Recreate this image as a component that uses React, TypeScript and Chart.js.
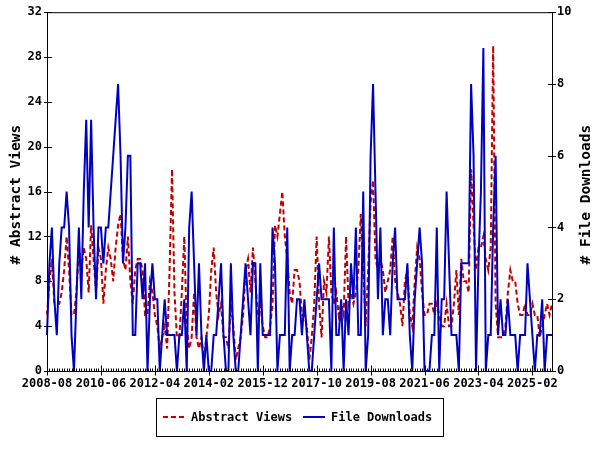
import { useEffect, useRef } from "react";
import { Chart, registerables } from "chart.js";

Chart.register(...registerables);

const START_YEAR = 2008;
const START_MONTH = 8;

const abstractViews = [
  5, 8, 10, 6, 6, 6, 7, 9, 12, 9, 5, 5, 7, 11, 9, 11, 10, 7, 13, 10,
  7, 11, 10, 6, 9, 11, 10, 8, 11, 13, 14, 10, 9, 12, 8, 6, 9, 10, 10, 9,
  5, 5, 8, 7, 5, 4, 2, 3, 4, 2, 9, 18, 7, 3, 3, 7, 12, 4, 2, 3,
  7, 3, 2, 3, 1, 3, 5, 9, 11, 7, 5, 6, 3, 3, 2, 6, 4, 1, 2, 3,
  5, 9, 10, 7, 11, 8, 5, 6, 4, 3, 3, 4, 6, 13, 12, 14, 16, 12, 10, 7,
  6, 9, 9, 8, 5, 5, 4, 1, 3, 6, 12, 6, 3, 8, 7, 12, 7, 6, 7, 5,
  6, 5, 12, 6, 7, 6, 7, 9, 14, 9, 4, 9, 15, 17, 10, 9, 10, 9, 7, 8,
  9, 12, 8, 7, 6, 4, 8, 9, 5, 4, 8, 11, 10, 7, 5, 5, 6, 6, 5, 6,
  5, 4, 4, 6, 4, 4, 6, 9, 5, 10, 8, 8, 7, 18, 13, 9, 11, 11, 12, 10,
  9, 11, 29, 6, 3, 3, 3, 4, 7, 9, 8, 8, 6, 5, 5, 6, 5, 5, 6, 5,
  5, 3, 4, 5, 6, 5, 6,
];

const fileDownloads = [
  1, 3, 4, 2, 1, 3, 4, 4, 5, 4, 1, 0, 2, 4, 2, 5, 7, 4, 7, 4,
  2, 4, 4, 3, 4, 4, 5, 6, 7, 8, 6, 3, 4, 6, 6, 1, 1, 3, 3, 2,
  3, 0, 2, 3, 2, 2, 0, 1, 2, 1, 1, 1, 1, 0, 1, 1, 2, 0, 4, 5,
  3, 1, 3, 1, 0, 1, 0, 0, 1, 1, 2, 3, 1, 0, 0, 3, 1, 0, 0, 1,
  2, 3, 2, 1, 3, 3, 0, 3, 1, 1, 1, 1, 4, 3, 0, 1, 1, 1, 4, 0,
  1, 1, 2, 2, 1, 2, 1, 0, 0, 1, 2, 3, 2, 2, 2, 2, 0, 4, 1, 1,
  2, 0, 2, 1, 3, 2, 4, 1, 1, 5, 0, 1, 6, 8, 5, 2, 4, 1, 2, 2,
  1, 3, 4, 2, 2, 2, 2, 3, 1, 0, 2, 3, 4, 3, 0, 0, 0, 1, 1, 4,
  0, 2, 2, 5, 3, 1, 1, 1, 0, 3, 3, 3, 3, 8, 6, 0, 3, 5, 9, 0,
  1, 1, 4, 6, 1, 2, 1, 1, 2, 1, 1, 1, 0, 1, 1, 1, 3, 2, 1, 0,
  1, 1, 2, 0, 1, 1, 1,
];

const months = abstractViews.map((_, i) => {
  const m = START_MONTH - 1 + i;
  return `${START_YEAR + Math.floor(m / 12)}-${String((m % 12) + 1).padStart(2, "0")}`;
});

const tickLabels = [
  "2008-08", "2010-06", "2012-04", "2014-02", "2015-12",
  "2017-10", "2019-08", "2021-06", "2023-04", "2025-02",
];

const leftTicks = [0, 4, 8, 12, 16, 20, 24, 28, 32];
const rightTicks = [0, 2, 4, 6, 8, 10];

const LEFT_TITLE = "# Abstract Views";
const RIGHT_TITLE = "# File Downloads";

const RED = "#bf0000";
const BLUE = "#0000bf";
const FONT = { family: '"DejaVu Sans Mono", monospace', size: 12, weight: "bold" as const };
const FONT_CSS = 'bold 12px "DejaVu Sans Mono", monospace';
const TITLE_CSS = 'bold 14.5px "DejaVu Sans Mono", monospace';

const framePlugin = {
  id: "frame",
  afterDraw(chart: any) {
    const { ctx, chartArea: ca, scales } = chart;
    const x = scales.x, y = scales.y, y2 = scales.y2;
    ctx.save();
    ctx.strokeStyle = "#000";
    ctx.lineWidth = 1;
    ctx.setLineDash([]);
    ctx.strokeRect(ca.left + 0.5, ca.top + 0.5, ca.right - ca.left, ca.bottom - ca.top);
    const by = ca.bottom + 0.5;
    ctx.beginPath();
    months.forEach((m, i) => {
      const px = Math.round(x.getPixelForValue(i)) + 0.5;
      if (tickLabels.includes(m)) {
        ctx.moveTo(px, by - 6);
        ctx.lineTo(px, by + 4);
      } else {
        ctx.moveTo(px, by - 3);
        ctx.lineTo(px, by);
      }
    });
    leftTicks.forEach((v) => {
      const py = Math.round(y.getPixelForValue(v)) + 0.5;
      ctx.moveTo(ca.left - 3, py);
      ctx.lineTo(ca.left + 5, py);
    });
    rightTicks.forEach((v) => {
      const py = Math.round(y2.getPixelForValue(v)) + 0.5;
      ctx.moveTo(ca.right - 4, py);
      ctx.lineTo(ca.right + 4, py);
    });
    ctx.stroke();

    // axis titles (both read bottom to top)
    const cy = (ca.top + ca.bottom) / 2 + 3;
    ctx.fillStyle = "#000";
    ctx.font = TITLE_CSS;
    ctx.textAlign = "center";
    ctx.textBaseline = "middle";
    ctx.save();
    ctx.translate(16, cy);
    ctx.rotate(-Math.PI / 2);
    ctx.fillText(LEFT_TITLE, 0, 0);
    ctx.restore();
    ctx.save();
    ctx.translate(586, cy);
    ctx.rotate(-Math.PI / 2);
    ctx.fillText(RIGHT_TITLE, 0, 0);
    ctx.restore();

    // legend
    ctx.strokeStyle = "#000";
    ctx.lineWidth = 1;
    ctx.strokeRect(156.5, 398.5, 287, 38);
    ctx.lineWidth = 2;
    ctx.strokeStyle = RED;
    ctx.setLineDash([5, 3]);
    ctx.beginPath();
    ctx.moveTo(163, 417);
    ctx.lineTo(184, 417);
    ctx.stroke();
    ctx.setLineDash([]);
    ctx.strokeStyle = BLUE;
    ctx.beginPath();
    ctx.moveTo(303, 417);
    ctx.lineTo(325, 417);
    ctx.stroke();
    ctx.fillStyle = "#000";
    ctx.font = FONT_CSS;
    ctx.textBaseline = "middle";
    ctx.textAlign = "left";
    ctx.fillText("Abstract Views", 191, 418);
    ctx.fillText("File Downloads", 331, 418);
    ctx.restore();
  },
};

export default function App() {
  const ref = useRef<HTMLCanvasElement | null>(null);
  useEffect(() => {
    if (!ref.current) return;
    const chart = new Chart(ref.current, {
      type: "line",
      data: {
        labels: months,
        datasets: [
          {
            label: "Abstract Views",
            data: abstractViews,
            yAxisID: "y",
            borderColor: RED,
            backgroundColor: RED,
            borderWidth: 2,
            borderDash: [5, 3],
            pointRadius: 0,
            tension: 0,
            order: 2,
          },
          {
            label: "File Downloads",
            data: fileDownloads,
            yAxisID: "y2",
            borderColor: BLUE,
            backgroundColor: BLUE,
            borderWidth: 2,
            pointRadius: 0,
            tension: 0,
            order: 1,
          },
        ],
      },
      options: {
        responsive: false,
        animation: false,
        events: [],
        layout: { padding: { top: 10, left: 0, right: 0, bottom: 0 } },
        plugins: { legend: { display: false }, tooltip: { enabled: false } },
        scales: {
          x: {
            type: "category",
            offset: false,
            grid: { display: false, drawTicks: false },
            border: { display: false },
            ticks: {
              autoSkip: false,
              maxRotation: 0,
              minRotation: 0,
              padding: 6,
              color: "#000",
              font: FONT,
              callback: (_v: any, i: number) => (tickLabels.includes(months[i]) ? months[i] : ""),
            },
            afterFit: (s: any) => {
              s.height = 79;
            },
          },
          y: {
            position: "left",
            min: 0,
            max: 32,
            grid: { display: false, drawTicks: false },
            border: { display: false },
            ticks: { stepSize: 4, padding: 5, color: "#000", font: FONT },
            afterFit: (s: any) => {
              s.width = 47;
            },
          },
          y2: {
            position: "right",
            min: 0,
            max: 10,
            grid: { display: false, drawTicks: false },
            border: { display: false },
            ticks: { stepSize: 2, padding: 5, color: "#000", font: FONT },
            afterFit: (s: any) => {
              s.width = 48;
            },
          },
        },
      },
      plugins: [framePlugin],
    });
    return () => chart.destroy();
  }, []);
  return (
    <div style={{ position: "fixed", left: 0, top: 0, width: 600, height: 450, background: "#fff" }}>
      <canvas ref={ref} width={600} height={450} />
    </div>
  );
}
